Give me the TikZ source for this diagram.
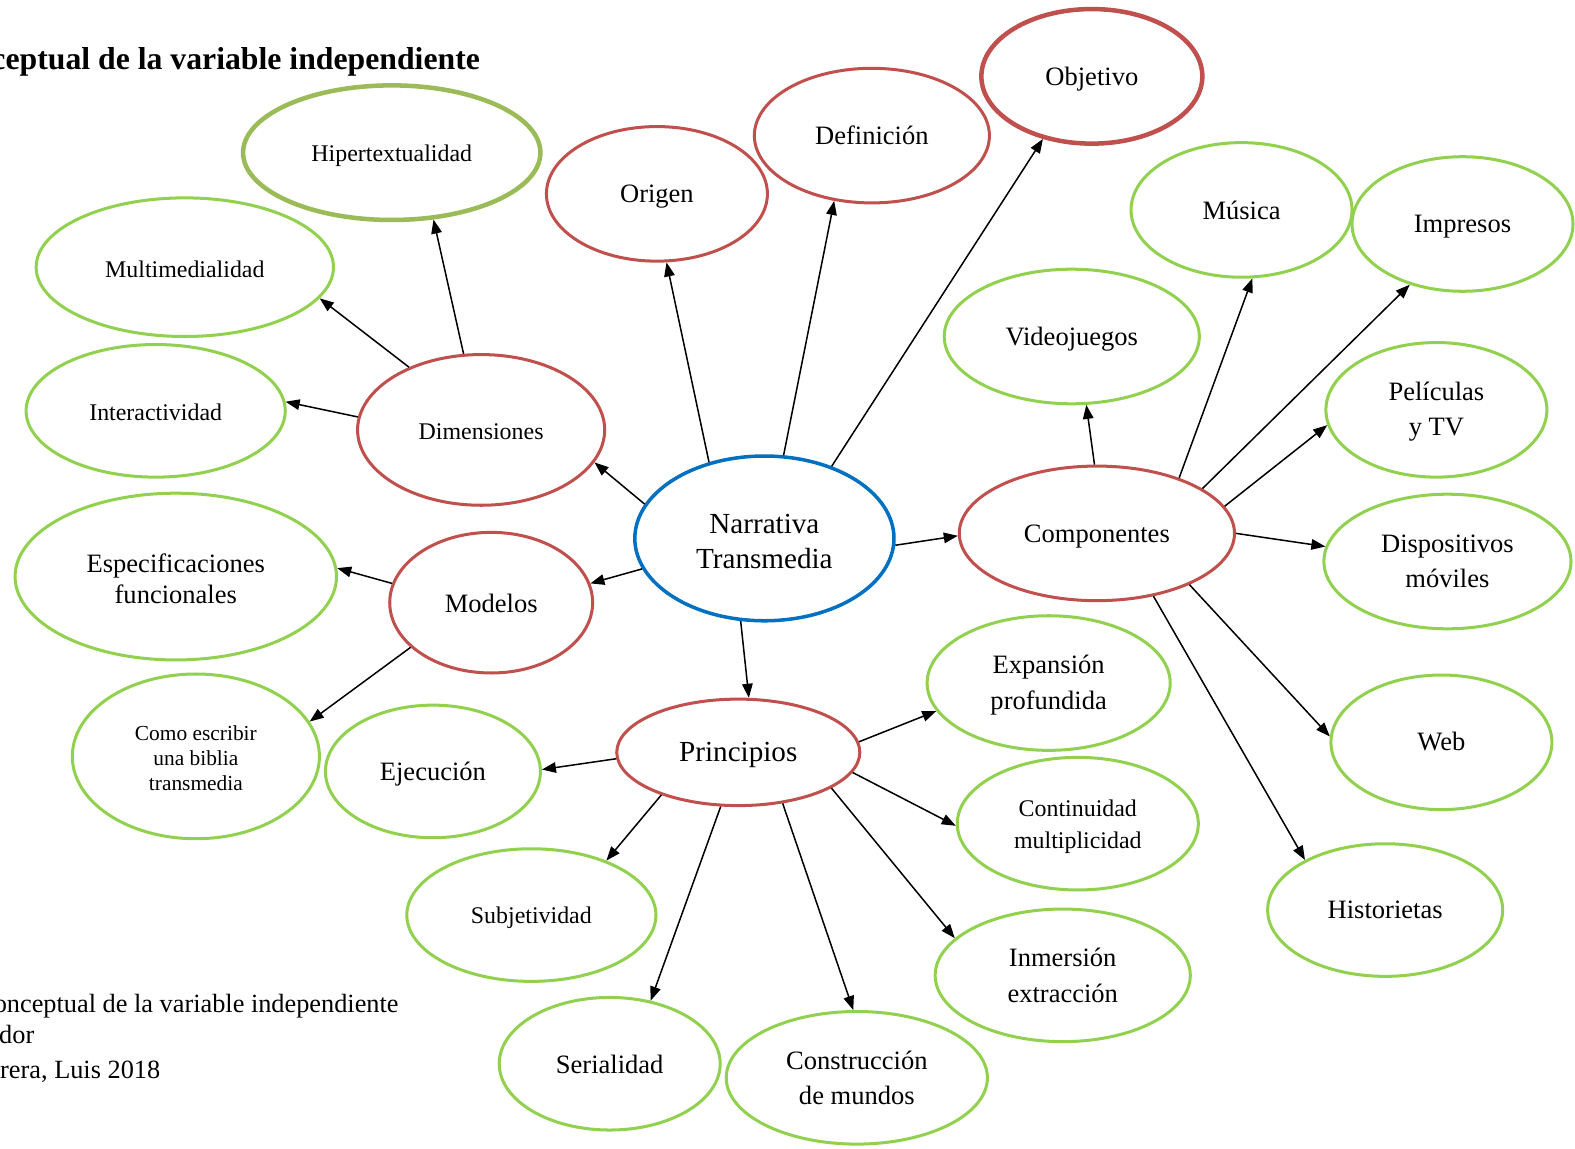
\documentclass[tikz,border=0pt]{standalone}
\usepackage{fontspec}
\setmainfont{Liberation Serif}
\usetikzlibrary{shapes.geometric,arrows.meta}
\definecolor{gr}{HTML}{92D050}
\definecolor{og}{HTML}{9BBB59}
\definecolor{rd}{HTML}{C0504D}
\definecolor{bl}{HTML}{0070C0}
% #1 ellipse options, #2 name, #3 centre, #4 text style, #5 text shift (pt), #6 text
\newcommand\bub[6]{%
  \node[#1] (#2) at (#3) {};
  \node[#4,inner sep=0pt,align=center] (#2-t) at ([yshift=#5pt]#2.center) {#6};}
\begin{document}
\begin{tikzpicture}[x=1pt,y=-1pt,
  el/.style={ellipse,inner sep=0pt,fill=white,line width=3pt},
  sz/.style 2 args={minimum width=#1pt,minimum height=#2pt},
  gnode/.style={el,draw=gr},
  rnode/.style={el,draw=rd},
  fL/.style={font=\fontsize{26.4}{35}\selectfont},
  fLt/.style={font=\fontsize{26.4}{31}\selectfont},
  fM/.style={font=\fontsize{23.8}{31}\selectfont},
  fS/.style={font=\fontsize{21.3}{25}\selectfont},
  fX/.style={font=\fontsize{29}{35}\selectfont},
  captxt/.style={inner sep=0pt,font=\fontsize{26.2}{30}\selectfont},
  arr/.style={-{Triangle[length=14pt,width=10.5pt]},line width=1.5pt,black}]
\fill[white] (0,0) rectangle (1568,1143);
\path[use as bounding box] (0,0) rectangle (1568,1143);

% captions
\node[anchor=base east,inner sep=0pt,font=\fontsize{31.6}{36}\selectfont\bfseries] (title) at (478,69) {ceptual de la variable independiente};
\node[captxt,anchor=base east] (cap1) at (397,1008) {onceptual de la variable independiente};
\node[captxt,anchor=base west] (cap2) at (-1,1039) {dor};
\node[captxt,anchor=base west] (cap3) at (0,1074) {rera, Luis 2018};

% central and red nodes
\bub{el,draw=bl,line width=3.5pt,sz={258}{164}}{nt}{761,536}{fX}{-3}{Narrativa\\Transmedia}
\bub{rnode,sz={274}{134}}{comp}{1092,531}{fL}{-3}{Componentes}
\bub{rnode,sz={242}{106}}{prin}{735,749}{fX}{-3}{Principios}
\bub{rnode,sz={202}{140}}{mod}{489,600}{fL}{-1}{Modelos}
\bub{rnode,sz={246}{150}}{dim}{479,428}{fM}{-2}{Dimensiones}
\bub{rnode,sz={220}{134}}{ori}{654,193}{fL}{-3}{Origen}
\bub{rnode,sz={234}{134}}{def}{868,135}{fL}{0}{Definición}
\bub{rnode,line width=4.5pt,sz={220}{134}}{obj}{1087,76}{fL}{-3}{Objetivo}

% green nodes
\bub{el,draw=og,line width=4.5pt,sz={296}{134}}{hip}{390,152}{fM}{-3}{Hipertextualidad}
\bub{gnode,sz={296}{138}}{mul}{184,266}{fM}{-2}{Multimedialidad}
\bub{gnode,sz={258}{132}}{int}{155,409}{fM}{-1}{Interactividad}
\bub{gnode,sz={320}{166}}{esp}{175,574}{fLt}{-2}{Especificaciones\\funcionales}
\bub{gnode,sz={246}{164}}{como}{195,753}{fS}{-2}{Como escribir\\una biblia\\transmedia}
\bub{gnode,sz={214}{132}}{eje}{431,768}{fL}{-3}{Ejecución}
\bub{gnode,sz={248}{132}}{sub}{529,911}{fM}{-3}{Subjetividad}
\bub{gnode,sz={220}{132}}{ser}{607,1059}{fL}{-1}{Serialidad}
\bub{gnode,sz={260}{132}}{con}{853,1073}{fL}{0}{Construcción\\de mundos}
\bub{gnode,sz={254}{132}}{inm}{1058,971}{fL}{0}{Inmersión\\extracción}
\bub{gnode,sz={240}{132}}{cnt}{1073,820}{fM}{-3}{Continuidad\\multiplicidad}
\bub{gnode,sz={242}{134}}{exp}{1044,680}{fL}{-2}{Expansión\\profundida}
\bub{gnode,sz={254}{134}}{vid}{1067,335}{fL}{-3}{Videojuegos}
\bub{gnode,sz={220}{134}}{mus}{1236,209}{fL}{0}{Música}
\bub{gnode,sz={220}{134}}{imp}{1456,223}{fL}{-3}{Impresos}
\bub{gnode,sz={220}{134}}{pel}{1430,408}{fL}{-2}{Películas\\y TV}
\bub{gnode,sz={246}{134}}{dis}{1441,559}{fL}{0}{Dispositivos\\móviles}
\bub{gnode,sz={220}{134}}{web}{1435,739}{fL}{1}{Web}
\bub{gnode,sz={234}{132}}{his}{1379,906}{fL}{0}{Historietas}

% connectors
\draw[arr] (nt.164) -- (dim.-16);
\draw[arr] (nt.194) -- (mod.11);
\draw[arr] (nt.126) -- (ori.-82);
\draw[arr] (nt.77) -- (def.-120);
\draw[arr] (nt.47) -- (obj.-128);
\draw[arr] (nt.-3) -- (comp.181);
\draw[arr] (nt.-106) -- (prin.79);
\draw[arr] (dim.103) -- (hip.-58);
\draw[arr] (dim.139) -- (mul.-13);
\draw[arr] (dim.174) -- (int.4);
\draw[arr] (mod.169) -- (esp.3);
\draw[arr] (mod.209) -- (como.17);
\draw[arr] (prin.183) -- (eje.1);
\draw[arr] (prin.209) -- (sub.36);
\draw[arr] (prin.252) -- (ser.57);
\draw[arr] (prin.-49) -- (con.93);
\draw[arr] (prin.-21) -- (inm.161);
\draw[arr] (prin.-10) -- (cnt.181);
\draw[arr] (prin.5) -- (exp.194);
\draw[arr] (comp.92) -- (vid.-78);
\draw[arr] (comp.34) -- (mus.-81);
\draw[arr] (comp.23) -- (imp.-131);
\draw[arr] (comp.12) -- (pel.188);
\draw[arr] (comp.0) -- (dis.173);
\draw[arr] (comp.-29) -- (web.177);
\draw[arr] (comp.-48) -- (his.148);
\end{tikzpicture}
\end{document}
